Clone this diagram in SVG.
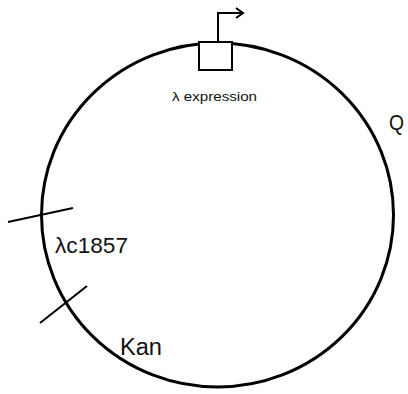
<svg xmlns="http://www.w3.org/2000/svg" width="408" height="394" viewBox="0 0 408 394">
  <defs>
    <style>
      .stroke { fill: none; stroke: #000; stroke-width: 2; }
      .lbl { font-family: "Liberation Sans", "DejaVu Sans", sans-serif; fill: #111; }
    </style>
  </defs>
  <rect width="408" height="394" fill="#fff"/>

  <!-- plasmid backbone -->
  <g id="plasmid">
    <ellipse cx="217.5" cy="215" rx="176" ry="172" fill="none" stroke="#000" stroke-width="3"/>
  </g>

  <!-- promoter box with transcription arrow -->
  <g id="promoter">
    <rect x="199" y="42" width="33" height="28" fill="#fff" stroke="#000" stroke-width="2"/>
    <polyline class="stroke" points="218,42 218,13 243,13"/>
    <polyline class="stroke" points="236,8 243,13 236,18"/>
    <text class="lbl" x="172" y="101" font-size="13.5" textLength="85" lengthAdjust="spacingAndGlyphs">λ expression</text>
  </g>

  <!-- region boundaries -->
  <g id="connectors">
    <line class="stroke" x1="8" y1="222" x2="73" y2="208"/>
    <line class="stroke" x1="40" y1="323" x2="87" y2="286"/>
  </g>

  <g id="lambda-c1857">
    <text class="lbl" x="55" y="253" font-size="22" textLength="73" lengthAdjust="spacingAndGlyphs">λc1857</text>
  </g>
  <g id="kan">
    <text class="lbl" x="120" y="355" font-size="23" textLength="42" lengthAdjust="spacingAndGlyphs">Kan</text>
  </g>
  <g id="q">
    <text class="lbl" x="389" y="130" font-size="22" textLength="15" lengthAdjust="spacingAndGlyphs">Q</text>
  </g>
</svg>
